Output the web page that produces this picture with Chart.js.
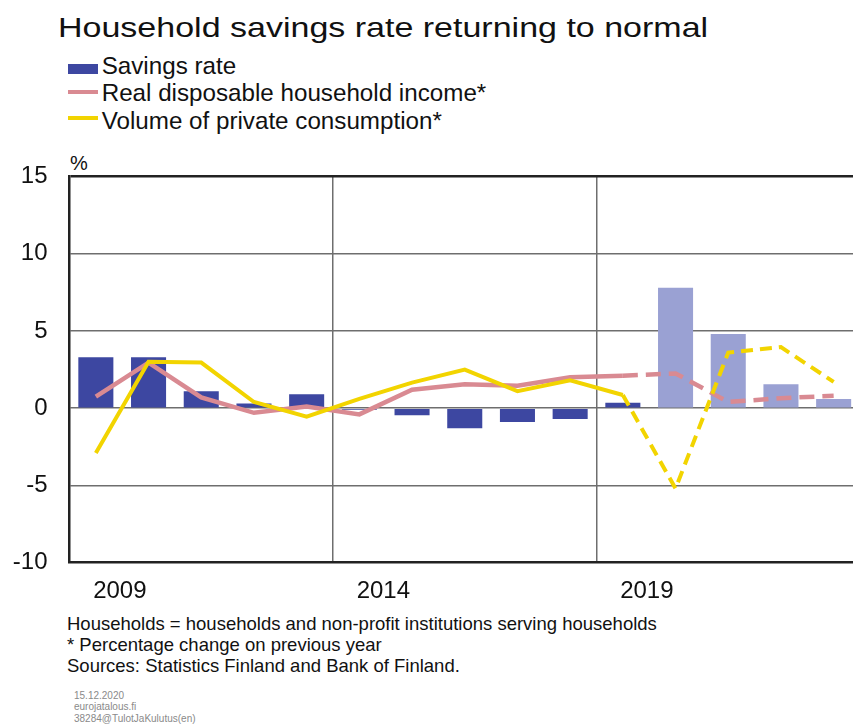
<!DOCTYPE html>
<html>
<head>
<meta charset="utf-8">
<title>Household savings rate returning to normal</title>
<script src="https://cdn.jsdelivr.net/npm/chart.js@4.4.1/dist/chart.umd.min.js"></script>
<style>
    html, body {
        margin: 0;
        padding: 0;
        width: 853px;
        height: 725px;
        overflow: hidden;
        background: #fff;
        font-family: 'Liberation Sans', Arial, sans-serif;
        color: #111;
    }
    .abs { position: absolute; white-space: nowrap; }
    #title {
        left: 58px;
        top: 14.3px;
        font-size: 34px;
        line-height: 34px;
        transform: scaleY(0.79);
        transform-origin: left top;
    }
    .legendText { left: 101.7px; font-size: 24.2px; line-height: 24px; }
    .swatch { position: absolute; left: 68px; width: 30px; }
    #pct { left: 70px; top: 153px; font-size: 20px; line-height: 20px; }
    #notes { left: 67px; top: 613px; font-size: 18.5px; line-height: 21px; }
    #meta { left: 74px; top: 689.8px; font-size: 10px; line-height: 11.5px; color: #8a8a8a; }
    #chartCanvas { position: absolute; left: 0; top: 140px; }
</style>
</head>
<body>
<div id="title" class="abs">Household savings rate returning to normal</div>

<div class="swatch" style="top:64px;height:10px;background:#3d47a1;"></div>
<div class="abs legendText" style="top:53.7px;">Savings rate</div>
<div class="swatch" style="top:89.7px;height:4px;background:#d98a92;"></div>
<div class="abs legendText" style="top:81.4px;">Real disposable household income*</div>
<div class="swatch" style="top:116.3px;height:4px;background:#f2d400;"></div>
<div class="abs legendText" style="top:109px;">Volume of private consumption*</div>

<div id="pct" class="abs">%</div>

<canvas id="chartCanvas" width="880" height="470"></canvas>

<div id="notes" class="abs">Households = households and non-profit institutions serving households<br>* Percentage change on previous year<br>Sources: Statistics Finland and Bank of Finland.</div>
<div id="meta" class="abs">15.12.2020<br>eurojatalous.fi<br>38284@TulotJaKulutus(en)</div>

<script>
// values
const years = ['2009', '2010', '2011', '2012', '2013', '2014', '2015', '2016',
    '2017', '2018', '2019', '2020', '2021', '2022', '2023'];
const savingsRate = [3.3, 3.3, 1.1, 0.3, 0.9, -0.1, -0.45, -1.3, -0.9, -0.7, 0.35, 7.8, 4.8, 1.55, 0.6];
const realIncome = [0.75, 2.95, 0.7, -0.3, 0.1, -0.4, 1.2, 1.55, 1.45, 2.0, 2.1, 2.25, 0.4, 0.65, 0.8];
const consumption = [-2.9, 3.0, 2.95, 0.4, -0.55, 0.6, 1.65, 2.5, 1.1, 1.8, 0.85, -5.2, 3.6, 3.95, 1.7];
const yTicks = [-10, -5, 0, 5, 10, 15];

// first forecast year index (2019 onwards lines dashed, 2020 onwards bars light)
const forecastStart = 10;

const darkBlue = '#3d47a1';
const lightBlue = '#9aa1d3';
const pink = '#d98a92';
const yellow = '#f2d400';

Chart.defaults.font.family = "'Liberation Sans', Arial, sans-serif";
Chart.defaults.color = '#111';

function barColors() {
    const colors = [];
    for (let i = 0; i < savingsRate.length; i++) {
        colors.push(i > forecastStart ? lightBlue : darkBlue);
    }
    return colors;
}

const ctx = document.getElementById('chartCanvas').getContext('2d');
new Chart(ctx, {
    type: 'bar',
    data: {
        labels: years,
        datasets: [{
            type: 'line',
            label: 'Volume of private consumption*',
            data: consumption,
            borderColor: yellow,
            borderWidth: 4,
            pointRadius: 0,
            tension: 0,
            order: 1,
            segment: {
                borderDash: c => c.p0DataIndex >= forecastStart ? [12, 7] : undefined
            }
        }, {
            type: 'line',
            label: 'Real disposable household income*',
            data: realIncome,
            borderColor: pink,
            borderWidth: 4.5,
            pointRadius: 0,
            tension: 0,
            order: 2,
            segment: {
                borderDash: c => c.p0DataIndex >= forecastStart ? [15, 8] : undefined
            }
        }, {
            type: 'bar',
            label: 'Savings rate',
            data: savingsRate,
            backgroundColor: barColors(),
            barPercentage: 0.665,
            categoryPercentage: 1,
            order: 3
        }]
    },
    options: {
        responsive: false,
        animation: false,
        layout: {
            padding: { top: 33.3, right: 20, bottom: 0, left: 0 }
        },
        plugins: {
            legend: { display: false },
            tooltip: { enabled: false }
        },
        scales: {
            x: {
                offset: true,
                afterFit: function (scale) { scale.height = 47.3; },
                grid: {
                    offset: true,
                    drawTicks: false,
                    lineWidth: 1.5,
                    color: c => (c.index === 5 || c.index === 10) ? '#6e6e6e' : 'rgba(0,0,0,0)'
                },
                border: { color: '#222', width: 2.5 },
                ticks: {
                    autoSkip: false,
                    maxRotation: 0,
                    labelOffset: 24,
                    padding: 14,
                    font: { size: 24 },
                    callback: function (value, index) {
                        return index % 5 === 0 ? years[index] : '';
                    }
                }
            },
            y: {
                min: yTicks[0],
                max: yTicks[yTicks.length - 1],
                afterFit: function (scale) { scale.width = 69.5; },
                afterBuildTicks: function (scale) {
                    scale.ticks = yTicks.map(v => ({ value: v }));
                },
                grid: {
                    drawTicks: false,
                    color: c => c.tick && c.tick.value === 15 ? '#222' : '#6e6e6e',
                    lineWidth: c => {
                        if (!c.tick) return 1.5;
                        if (c.tick.value === 15) return 2.5;
                        if (c.tick.value === -10) return 0;
                        return 1.5;
                    }
                },
                border: { color: '#222', width: 2.5 },
                ticks: {
                    padding: 22,
                    font: { size: 24 }
                }
            }
        }
    }
});
</script>
</body>
</html>
